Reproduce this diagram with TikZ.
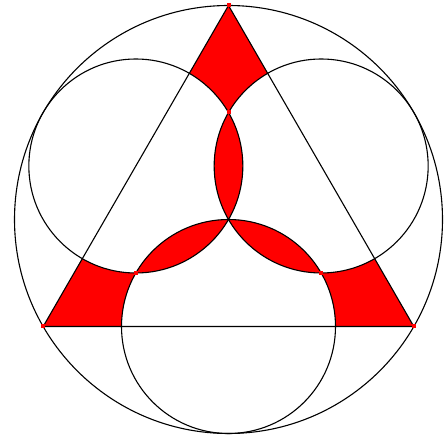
\documentclass[tikz,border=0pt]{standalone}
\usetikzlibrary{calc}
\begin{document}
\begin{tikzpicture}[x=1pt,y=1pt,
  outline/.style={draw=black,line width=1.1pt},
  region/.style={fill=red},
  dot/.style={fill=red,draw=none,inner sep=0pt,minimum size=4pt,rectangle}]
\useasboundingbox (0,0) rectangle (447,436);
% centre and main points
\coordinate (O) at (228.5,216.5);
\coordinate (A) at ($(O)+(90:214pt)$);
\coordinate (B) at ($(O)+(210:214pt)$);
\coordinate (C) at ($(O)+(330:214pt)$);
\coordinate (MAB) at ($(O)+(150:107pt)$);
\coordinate (MAC) at ($(O)+(30:107pt)$);
\coordinate (MBC) at ($(O)+(270:107pt)$);
\coordinate (QA) at ($(O)+(90:107pt)$);
\coordinate (QB) at ($(O)+(210:107pt)$);
\coordinate (QC) at ($(O)+(330:107pt)$);
\coordinate (PA1) at ($(MAB)+(60:107pt)$);
\coordinate (PB1) at ($(MAB)+(240:107pt)$);
\coordinate (PA2) at ($(MAC)+(120:107pt)$);
\coordinate (PC2) at ($(MAC)+(300:107pt)$);
\coordinate (PB3) at ($(MBC)+(180:107pt)$);
\coordinate (PC3) at ($(MBC)+(0:107pt)$);
% red regions: lenses
\fill[region] (O) arc[start angle=-30,end angle=30,radius=107pt] arc[start angle=150,end angle=210,radius=107pt] -- cycle;
\fill[region] (O) arc[start angle=330,end angle=270,radius=107pt] arc[start angle=150,end angle=90,radius=107pt] -- cycle;
\fill[region] (O) arc[start angle=210,end angle=270,radius=107pt] arc[start angle=30,end angle=90,radius=107pt] -- cycle;
% red regions: corners
\fill[region] (A) -- (PA1) arc[start angle=60,end angle=30,radius=107pt] arc[start angle=150,end angle=120,radius=107pt] -- cycle;
\fill[region] (B) -- (PB3) arc[start angle=180,end angle=150,radius=107pt] arc[start angle=270,end angle=240,radius=107pt] -- cycle;
\fill[region] (C) -- (PC3) arc[start angle=0,end angle=30,radius=107pt] arc[start angle=270,end angle=300,radius=107pt] -- cycle;
% outlines
\draw[outline] (O) circle[radius=214pt];
\draw[outline] (A) -- (B) -- (C) -- cycle;
\draw[outline] (MAB) circle[radius=107pt];
\draw[outline] (MAC) circle[radius=107pt];
\draw[outline] (MBC) circle[radius=107pt];
% red dots
\node[dot] (dA) at (A) {};
\node[dot] (dB) at (B) {};
\node[dot] (dC) at (C) {};
\node[dot] (dQA) at (QA) {};
\node[dot] (dQB) at (QB) {};
\node[dot] (dQC) at (QC) {};
\end{tikzpicture}
\end{document}
